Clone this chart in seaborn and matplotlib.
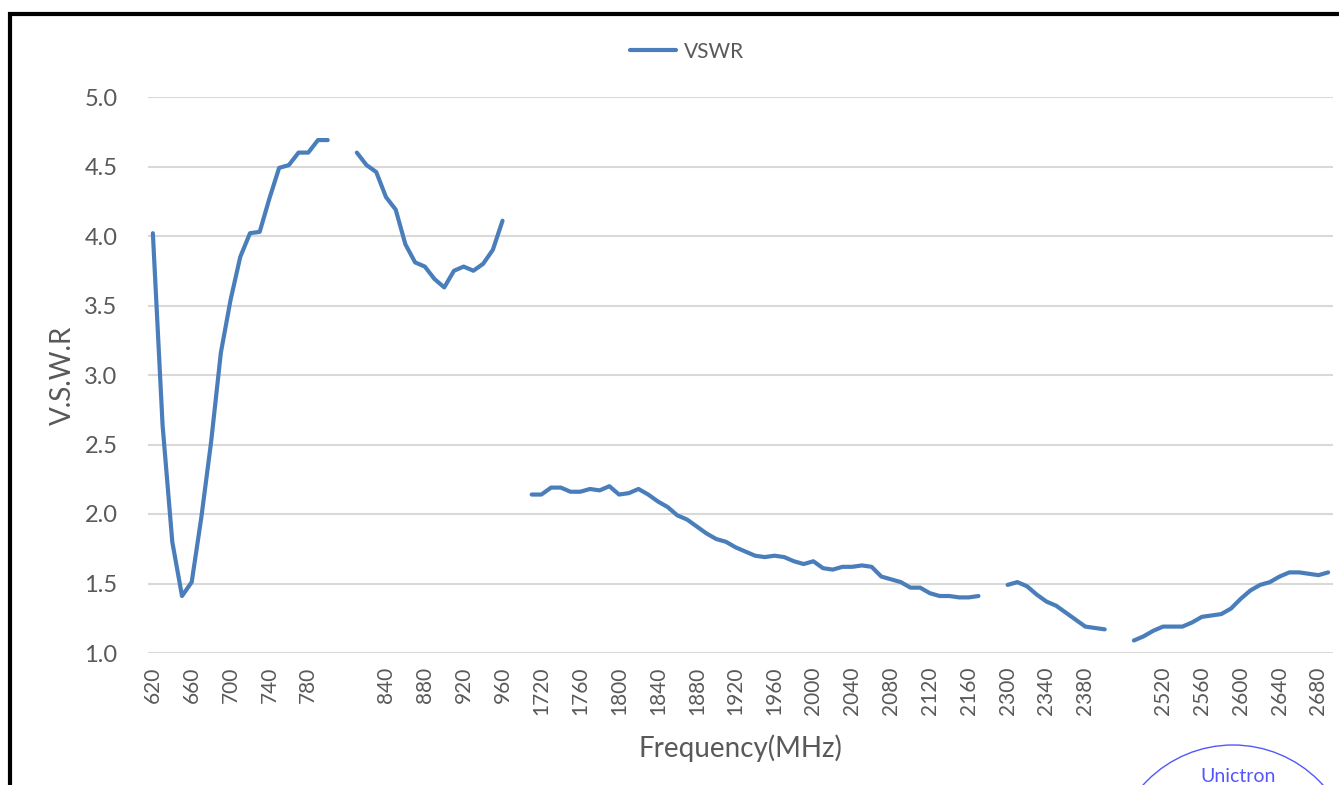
import numpy as np
import pandas as pd
import matplotlib
matplotlib.use("Agg")
import matplotlib.pyplot as plt
import seaborn as sns
from matplotlib.patches import Rectangle, Ellipse

# Category axis (Excel style): blank entries are empty categories that break the line
freq_low_a = list(range(620, 801, 10))      # 620..800
freq_low_b = list(range(810, 961, 10))      # 810..960
freq_mid = list(range(1710, 2171, 10))      # 1710..2170
freq_hi_a = list(range(2300, 2401, 10))     # 2300..2400
freq_hi_b = list(range(2490, 2691, 10))     # 2490..2690

vswr_low_a = [4.02, 2.64, 1.80, 1.41, 1.51, 1.98, 2.52, 3.16, 3.54, 3.85, 4.02,
              4.03, 4.27, 4.49, 4.51, 4.60, 4.60, 4.69, 4.69]
vswr_low_b = [4.60, 4.51, 4.46, 4.28, 4.19, 3.94, 3.81, 3.78, 3.69, 3.63, 3.75,
              3.78, 3.75, 3.80, 3.90, 4.11]
vswr_mid = [2.14, 2.14, 2.19, 2.19, 2.16, 2.16, 2.18, 2.17, 2.20, 2.14, 2.15,
            2.18, 2.14, 2.09, 2.05, 1.99, 1.96, 1.91, 1.86, 1.82, 1.80, 1.76,
            1.73, 1.70, 1.69, 1.70, 1.69, 1.66, 1.64, 1.66, 1.61, 1.60, 1.62,
            1.62, 1.63, 1.62, 1.55, 1.53, 1.51, 1.47, 1.47, 1.43, 1.41, 1.41,
            1.40, 1.40, 1.41]
vswr_hi_a = [1.49, 1.51, 1.48, 1.42, 1.37, 1.34, 1.29, 1.24, 1.19, 1.18, 1.17]
vswr_hi_b = [1.09, 1.12, 1.16, 1.19, 1.19, 1.19, 1.22, 1.26, 1.27, 1.28, 1.32,
             1.39, 1.45, 1.49, 1.51, 1.55, 1.58, 1.58, 1.57, 1.56, 1.58]

y_ticks = [1.0, 1.5, 2.0, 2.5, 3.0, 3.5, 4.0, 4.5, 5.0]

segments = [(freq_low_a, vswr_low_a), (freq_low_b, vswr_low_b), (freq_mid, vswr_mid),
            (freq_hi_a, vswr_hi_a), (freq_hi_b, vswr_hi_b)]

# build category list: two empty categories between each band
categories = []
rows = []
for seg_id, (fr, vs) in enumerate(segments):
    if seg_id > 0:
        categories += ["", ""]
    for f, v in zip(fr, vs):
        rows.append({"pos": len(categories), "freq": f, "vswr": v, "segment": seg_id})
        categories.append(str(f))
df = pd.DataFrame(rows)

sns.set_style("white")
plt.rcParams["font.family"] = ["Lato", "DejaVu Sans"]
grey = "#595959"
blue = "#4A7EBB"

fig = plt.figure(figsize=(13.39, 7.85), dpi=100)
ax = fig.add_axes([148 / 1339, 1 - 653 / 785, 1185 / 1339, 556 / 785])

sns.lineplot(data=df, x="pos", y="vswr", units="segment", estimator=None,
             color=blue, linewidth=3, ax=ax)

ax.set_xlim(-0.5, len(categories) - 0.5)
ax.set_ylim(1.0, 5.0)
ax.set_yticks(y_ticks)
ax.set_yticklabels([f"{t:.1f}" for t in y_ticks], fontsize=17, color=grey)
tick_pos = list(range(0, len(categories), 4))
ax.set_xticks(tick_pos)
ax.set_xticklabels([categories[i] for i in tick_pos], rotation=90, fontsize=15, color=grey)
ax.tick_params(axis="both", length=0)
ax.tick_params(axis="y", pad=22)
ax.tick_params(axis="x", pad=10)
ax.grid(axis="y", color="#D9D9D9", linewidth=1.5)
ax.set_axisbelow(True)
for s in ax.spines.values():
    s.set_visible(False)

ax.set_xlabel("Frequency(MHz)", fontsize=20, color=grey, labelpad=14)
ax.set_ylabel("V.S.W.R", fontsize=20, color=grey, labelpad=6)

ax.legend(handles=[ax.lines[0]], labels=["VSWR"], loc="lower center",
          bbox_to_anchor=(0.455, 1.03), frameon=False, fontsize=15,
          handlelength=2.2, handletextpad=0.4, labelcolor=grey)

# screenshot frame and logo fragment
fig.patches.append(Rectangle((10 / 1339, -0.1), 1.2, (1 - 14 / 785) + 0.1,
                             transform=fig.transFigure, fill=False,
                             edgecolor="black", linewidth=3))
fig.patches.append(Ellipse((1233 / 1339, 1 - 866 / 785), 242 / 1339, 242 / 785,
                           transform=fig.transFigure, fill=False,
                           edgecolor="#5555FF", linewidth=1))
fig.text(1238 / 1339, 1 - 776 / 785, "Unictron", color="#5555FF",
         fontsize=14, ha="center", va="center")

fig.savefig("out.png", dpi=100)
